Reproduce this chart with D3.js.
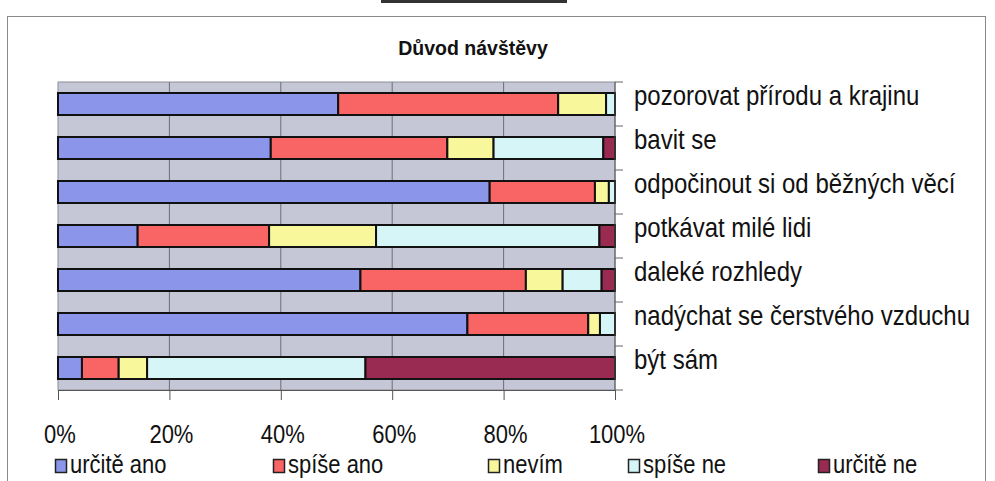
<!DOCTYPE html>
<html>
<head>
<meta charset="utf-8">
<script src="https://cdn.jsdelivr.net/npm/d3@7"></script>
<style>
  body { margin: 0; background: #fff; }
  svg { display: block; font-family: Arial, "Liberation Sans", sans-serif; }
</style>
</head>
<body>
<div id="chart"></div>
<script>
// Categories (top to bottom) and series values in percent
const categories = [
  'pozorovat přírodu a krajinu',
  'bavit se',
  'odpočinout si od běžných věcí',
  'potkávat milé lidi',
  'daleké rozhledy',
  'nadýchat se čerstvého vzduchu',
  'být sám'
];
const seriesNames = ['určitě ano', 'spíše ano', 'nevím', 'spíše ne', 'určitě ne'];
const urciteAno = [50.3, 38.2, 77.5, 14.3, 54.3, 73.5, 4.3];
const spiseAno  = [39.5, 31.7, 18.9, 23.6, 29.7, 21.7, 6.6];
const nevim     = [8.6, 8.3, 2.5, 19.2, 6.6, 2.1, 5.1];
const spiseNe   = [1.6, 19.7, 1.1, 40.1, 7.0, 2.7, 39.2];
const urciteNe  = [0, 2.1, 0, 2.8, 2.4, 0, 44.8];
const xTicks = [0, 20, 40, 60, 80, 100];
const title = 'Důvod návštěvy';

const colors = ['#8b95ea', '#f96464', '#f9f79b', '#d6f5f7', '#992a52'];

const rows = categories.map((c, i) => ({
  category: c,
  'určitě ano': urciteAno[i],
  'spíše ano': spiseAno[i],
  'nevím': nevim[i],
  'spíše ne': spiseNe[i],
  'určitě ne': urciteNe[i]
}));

const width = 995, height = 481;
const plot = { left: 58, right: 615, top: 82, bottom: 390 };

const svg = d3.select('#chart').append('svg')
  .attr('width', width)
  .attr('height', height);

// cut-off underline of the scanned page above the chart
svg.append('rect')
  .attr('x', 381).attr('y', 0).attr('width', 186).attr('height', 3)
  .attr('fill', '#333');

// chart frame
svg.append('rect')
  .attr('x', 7.5).attr('y', 16.5)
  .attr('width', 978).attr('height', 480)
  .attr('fill', '#fff')
  .attr('stroke', '#8a8a8a');

// Title
svg.append('text')
  .attr('x', 473).attr('y', 55)
  .attr('text-anchor', 'middle')
  .attr('font-size', '19.5px')
  .attr('font-weight', 'bold')
  .attr('fill', '#111')
  .text(title);

const x = d3.scaleLinear().domain([0, 100]).range([plot.left, plot.right]);
const y = d3.scaleBand().domain(categories)
  .range([plot.top, plot.bottom])
  .paddingInner(0.5).paddingOuter(0.25);
const color = d3.scaleOrdinal().domain(seriesNames).range(colors);

// Plot area background
svg.append('rect')
  .attr('x', plot.left).attr('y', plot.top)
  .attr('width', plot.right - plot.left)
  .attr('height', plot.bottom - plot.top)
  .attr('fill', '#c5c6d6')
  .attr('stroke', '#8d8d9b');

// Vertical gridlines
svg.append('g')
  .selectAll('line')
  .data(xTicks.slice(1, -1))
  .join('line')
  .attr('x1', d => x(d)).attr('x2', d => x(d))
  .attr('y1', plot.top).attr('y2', plot.bottom)
  .attr('stroke', '#6e6e74')
  .attr('stroke-width', 1);

// Stacked bars
const stacked = d3.stack().keys(seriesNames)(rows);

svg.append('g')
  .selectAll('g')
  .data(stacked)
  .join('g')
  .attr('fill', d => color(d.key))
  .selectAll('rect')
  .data(d => d.filter(s => s[1] - s[0] > 0))
  .join('rect')
  .attr('x', d => x(d[0]))
  .attr('y', d => y(d.data.category))
  .attr('width', d => x(d[1]) - x(d[0]))
  .attr('height', y.bandwidth())
  .attr('stroke', '#111')
  .attr('stroke-width', 2);

// Bottom value axis (ticks only; labels drawn below)
const xAxis = svg.append('g')
  .attr('transform', `translate(0,${plot.bottom})`)
  .call(d3.axisBottom(x).tickValues(xTicks).tickSize(10).tickFormat(''));
xAxis.select('.domain').attr('stroke', '#555');
xAxis.selectAll('.tick line').attr('stroke', '#555');

svg.append('g')
  .selectAll('text')
  .data(xTicks)
  .join('text')
  .attr('transform', d => `translate(${x(d) + 2},443) scale(1,1.15)`)
  .attr('text-anchor', 'middle')
  .attr('font-size', '22px')
  .attr('fill', '#111')
  .text(d => d + '%');

// Right category axis
svg.append('line')
  .attr('x1', plot.right).attr('x2', plot.right)
  .attr('y1', plot.top).attr('y2', plot.bottom)
  .attr('stroke', '#555');

const bounds = d3.range(categories.length + 1).map(i => plot.top + i * y.step());
svg.append('g')
  .selectAll('line')
  .data(bounds)
  .join('line')
  .attr('x1', plot.right).attr('x2', plot.right + 8)
  .attr('y1', d => d).attr('y2', d => d)
  .attr('stroke', '#666');

svg.append('g')
  .selectAll('text')
  .data(categories)
  .join('text')
  .attr('transform', d => `translate(634,${y(d) + y.bandwidth() / 2 + 1}) scale(1,1.12)`)
  .attr('font-size', '24px')
  .attr('fill', '#111')
  .text(d => d);

// Legend
const legendX = [55, 273, 488, 628, 818];
const legend = svg.append('g')
  .selectAll('g')
  .data(seriesNames)
  .join('g')
  .attr('transform', (d, i) => `translate(${legendX[i]},0)`);

legend.append('rect')
  .attr('x', 0.5).attr('y', 459.5)
  .attr('width', 11).attr('height', 13)
  .attr('fill', d => color(d))
  .attr('stroke', '#222')
  .attr('stroke-width', 1.5);

legend.append('text')
  .attr('transform', 'translate(15,473) scale(1,1.15)')
  .attr('font-size', '22px')
  .attr('fill', '#111')
  .text(d => d);
</script>
</body>
</html>
